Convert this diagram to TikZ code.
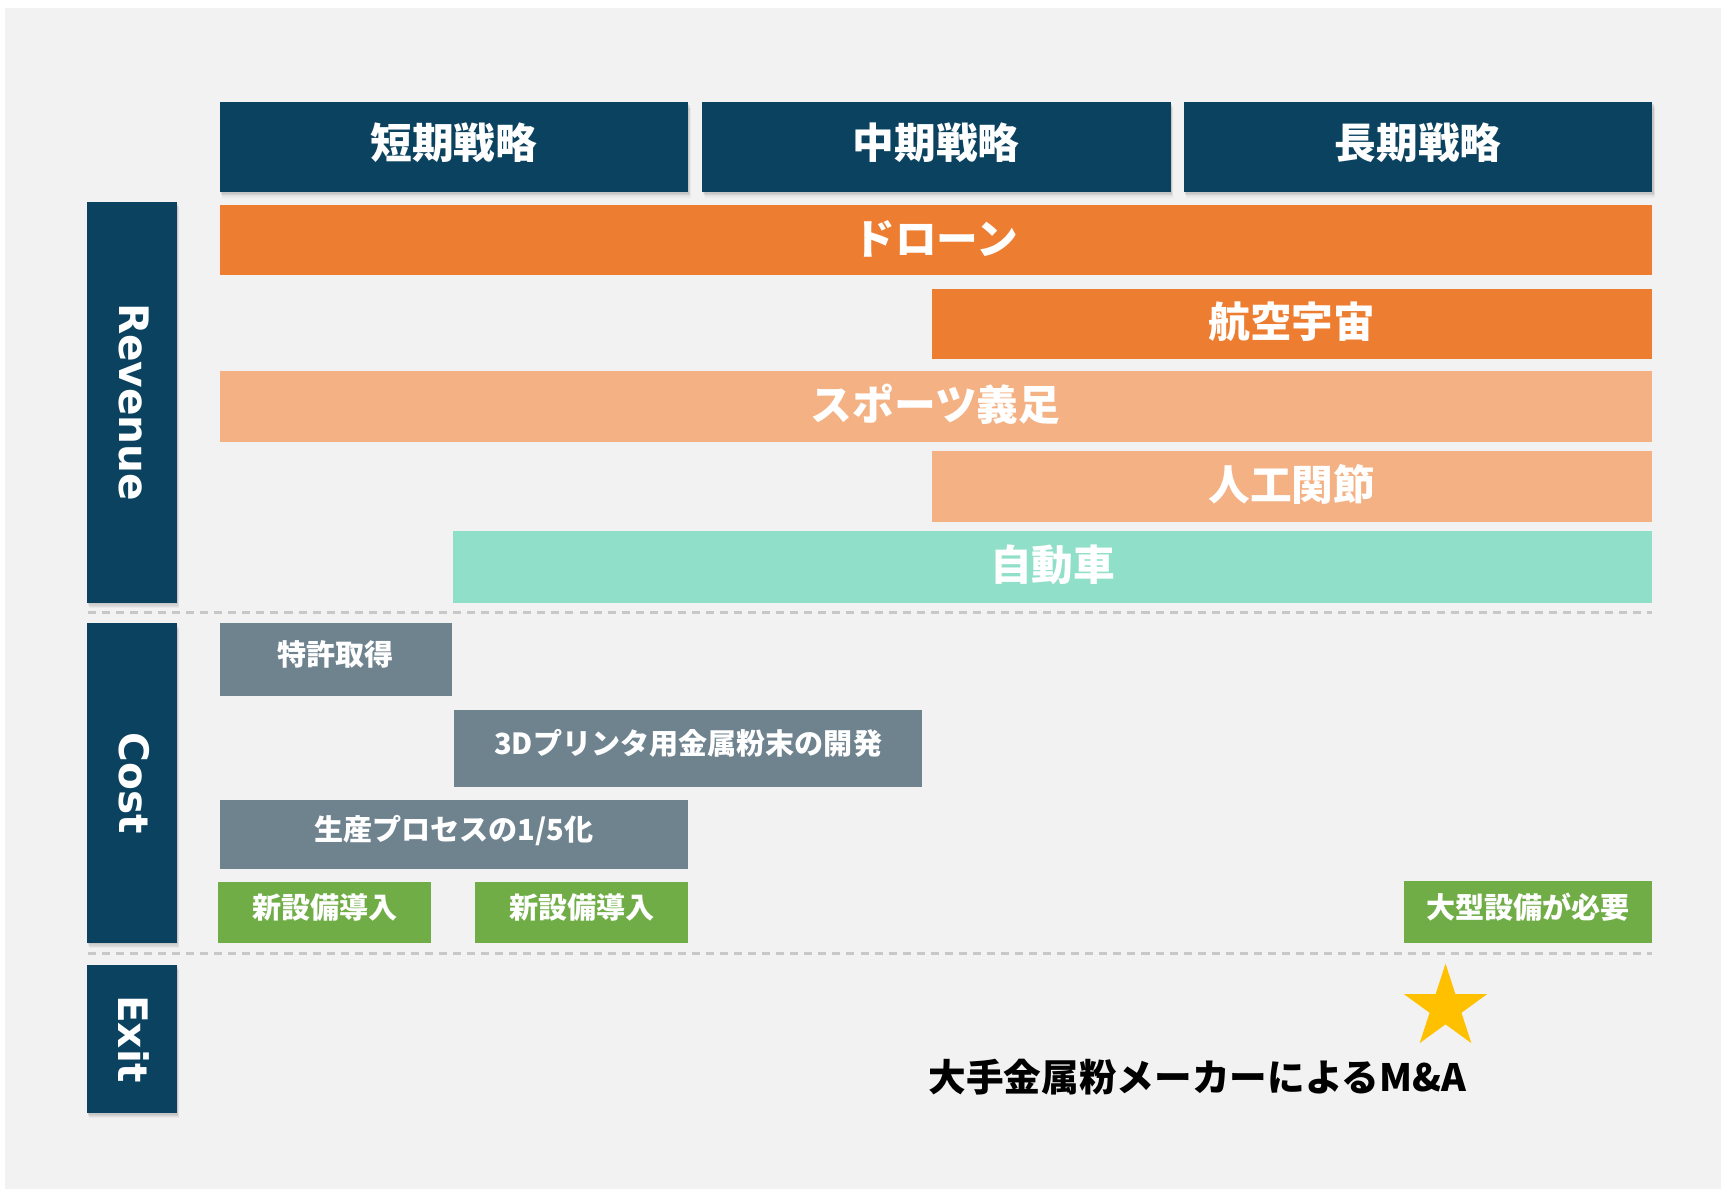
\documentclass[tikz,border=0pt]{standalone}
\usepackage{fontspec}
\newfontfamily\jp{Noto Sans CJK JP}
\newfontfamily\lat{DejaVu Sans}
\usetikzlibrary{shapes.geometric}
\definecolor{navy}{HTML}{0B4260}
\definecolor{bgc}{HTML}{F2F2F2}
\definecolor{orng}{HTML}{ED7D31}
\definecolor{lorng}{HTML}{F4B183}
\definecolor{mint}{HTML}{90DFC9}
\definecolor{slate}{HTML}{6F838F}
\definecolor{grn}{HTML}{70AD47}
\definecolor{starc}{HTML}{FFC000}
\definecolor{dashc}{HTML}{C8C8C8}
\tikzset{
  box/.style={inner sep=0pt, outer sep=0pt, anchor=center, text=white},
  shad/.style={
    preaction={fill=black, fill opacity=0.035, transform canvas={xshift=2.5pt,yshift=-5pt}},
    preaction={fill=black, fill opacity=0.04, transform canvas={xshift=2pt,yshift=-4pt}},
    preaction={fill=black, fill opacity=0.05, transform canvas={xshift=1.5pt,yshift=-3pt}},
    preaction={fill=black, fill opacity=0.06, transform canvas={xshift=1pt,yshift=-1.5pt}}},
  hdr/.style={box, shad, fill=navy, minimum width=427pt, minimum height=82pt,
    text height=34pt, text depth=13pt,
    font=\jp\bfseries\fontsize{38}{40}\selectfont},
  sidebox/.style={box, shad, fill=navy, minimum width=82pt},
  sidetxt/.style={text=white, inner sep=0pt, rotate=-90, font=\lat\bfseries\fontsize{37}{40}\selectfont},
  bar/.style={box, text height=33pt, text depth=8pt, font=\jp\bfseries\fontsize{38}{40}\selectfont},
  costbox/.style={box, text height=21pt, text depth=10pt, font=\jp\bfseries\fontsize{26.5}{30}\selectfont},
  sep/.style={dashc, line width=2.5pt, dash pattern=on 7.3pt off 5.5pt},
}
\begin{document}
\begin{tikzpicture}[x=1pt,y=-1pt]
\useasboundingbox (0,0) rectangle (1568,1083);
\fill[white] (0,0) rectangle (1568,1083);
\fill[bgc] (4.6,7.3) rectangle (1568,1083);

% headers
\node[hdr] (h1) at (413.5,134) {短期戦略};
\node[hdr] (h2) at (853,134) {中期戦略};
\node[hdr] (h3) at (1292,134) {長期戦略};

% side labels
\node[sidebox, minimum height=365pt] (rev) at (120,366.5) {};
\node[sidetxt] (revt) at ([xshift=2pt]rev.center) {Revenue};
\node[sidebox, minimum height=291pt] (cost) at (120,713.5) {};
\node[sidetxt] (costt) at ([xshift=2pt]cost.center) {Cost};
\node[sidebox, minimum height=135pt] (exit) at (120,946.5) {};
\node[sidetxt] (exitt) at ([xshift=2pt]exit.center) {Exit};

% revenue bars
\node[bar, fill=orng, minimum width=1305pt, minimum height=64pt] (drone) at (852.5,219) {ドローン};
\node[bar, fill=orng, minimum width=656pt, minimum height=64pt] (aero) at (1177,295) {航空宇宙};
\node[bar, fill=lorng, minimum width=1305pt, minimum height=65pt] (sport) at (852.5,370.5) {スポーツ義足};
\node[bar, fill=lorng, minimum width=656pt, minimum height=65pt] (joint) at (1177,443.5) {人工関節};
\node[bar, fill=mint, minimum width=1092pt, minimum height=65pt] (car) at (959,516.5) {自動車};

% separators
\coordinate (s1a) at (80,558);
\coordinate (s1b) at (1505,558);
\coordinate (s2a) at (80,869);
\coordinate (s2b) at (1505,869);
\draw[sep] (s1a) -- (s1b);
\draw[sep] (s2a) -- (s2b);

% cost items
\node[costbox, fill=slate, minimum width=212pt, minimum height=66pt] (pat) at (306,601) {特許取得};
\node[costbox, fill=slate, minimum width=426pt, minimum height=70pt] (dev) at (627,682) {3Dプリンタ用金属粉末の開発};
\node[costbox, fill=slate, minimum width=427pt, minimum height=63pt] (proc) at (413.5,760.5) {生産プロセスの1/5化};
\node[costbox, fill=grn, minimum width=194pt, minimum height=55pt] (new1) at (296,831.5) {新設備導入};
\node[costbox, fill=grn, minimum width=194pt, minimum height=55pt] (new2) at (530,831.5) {新設備導入};
\node[costbox, fill=grn, minimum width=226pt, minimum height=56pt] (big) at (1392,831) {大型設備が必要};

% exit
\node[star, star points=5, star point ratio=2.618, fill=starc, inner sep=0pt, minimum size=80pt] (star) at (1317,918) {};
\node[inner sep=0pt, font=\jp\bfseries\fontsize{34.3}{38}\selectfont] (ma) at (1091,981) {大手金属粉メーカーによるM\&A};
\end{tikzpicture}
\end{document}
